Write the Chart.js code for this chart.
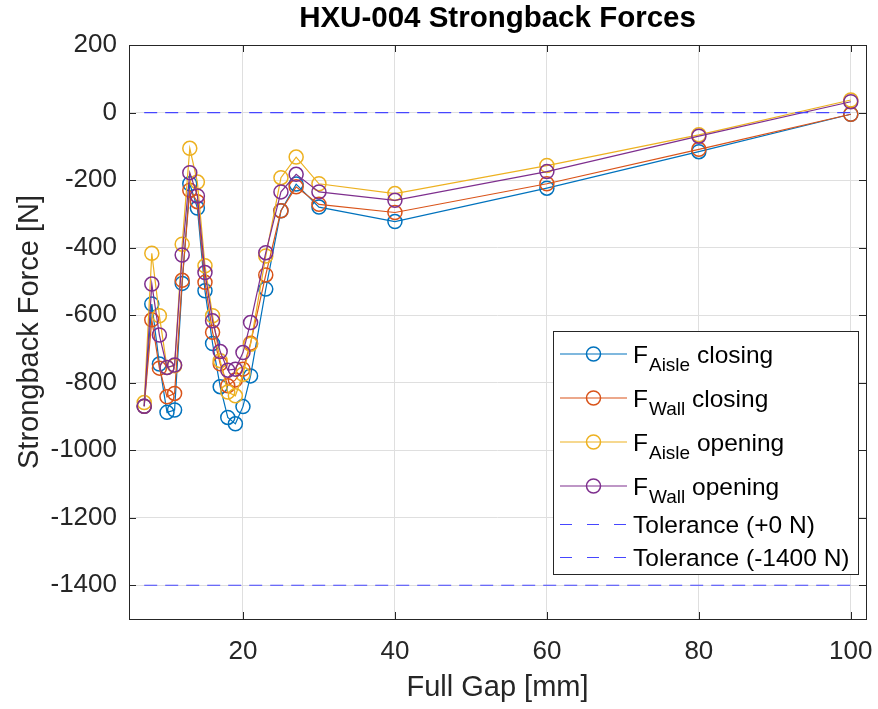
<!DOCTYPE html>
<html>
<head>
<meta charset="utf-8">
<title>HXU-004 Strongback Forces</title>
<script src="https://cdn.jsdelivr.net/npm/chart.js@4.4.1/dist/chart.umd.min.js"></script>
<style>
    html, body { margin: 0; padding: 0; background: #fff; }
    #wrap { width: 878px; height: 709px; }
</style>
</head>
<body>
<div id="wrap"><canvas id="mainChart" width="878" height="709"></canvas></div>
<script>
// ---- data ----
const chartTitle = "HXU-004 Strongback Forces";
const gap = [7, 8, 9, 10, 11, 12, 13, 14, 15, 16, 17, 18, 19, 20, 21, 23, 25, 27, 30, 40, 60, 80, 100];

const aisleClosing = [-870, -567, -745, -888, -881, -506, -211, -283, -528, -684, -812, -903, -922, -871, -780, -523, -291, -212, -280, -323, -224, -116, -5];
const wallClosing  = [-870, -614, -757, -842, -832, -497, -230, -264, -503, -651, -744, -809, -792, -760, -683, -481, -291, -220, -272, -296, -211, -109, -5];
const aisleOpening = [-859, -417, -602, -755, -750, -390, -106, -206, -454, -602, -735, -828, -839, -775, -686, -425, -193, -132, -211, -240, -157, -66, 37];
const wallOpening  = [-870, -508, -659, -755, -748, -422, -178, -247, -474, -617, -708, -763, -760, -711, -622, -415, -235, -183, -235, -260, -175, -70, 32];

const tolGap = [7, 100];
const tolUpper = [0, 0];
const tolLower = [-1400, -1400];

const seriesNames = ["F_{Aisle} closing", "F_{Wall} closing", "F_{Aisle} opening", "F_{Wall} opening",
                     "Tolerance (+0 N)", "Tolerance (-1400 N)"];

const xTicks = [20, 40, 60, 80, 100];
const yTicks = [-1400, -1200, -1000, -800, -600, -400, -200, 0, 200];

const FONT = '"Liberation Sans", Arial, Helvetica, sans-serif';
const AXIS_COLOR = '#262626';

function toPoints(xs, ys) {
    return xs.map((v, i) => ({x: v, y: ys[i]}));
}

function lineSet(label, xs, ys, color, order) {
    return {
        label: label,
        data: toPoints(xs, ys),
        borderColor: color,
        backgroundColor: color,
        borderWidth: 1.2,
        pointRadius: 7,
        pointHoverRadius: 7,
        pointBorderWidth: 1.5,
        pointBorderColor: color,
        pointBackgroundColor: 'rgba(0,0,0,0)',
        tension: 0,
        fill: false,
        order: order
    };
}

function tolSet(label, ys) {
    return {
        label: label,
        data: toPoints(tolGap, ys),
        borderColor: '#4646ff',
        borderWidth: 1.2,
        borderDash: [13, 8],
        pointRadius: 0,
        fill: false,
        order: 0
    };
}

// axes box, inward ticks, title and the legend (legend needs subscripts)
const matlabLook = {
    id: 'matlabLook',
    afterDraw(chart) {
        const ctx = chart.ctx, a = chart.chartArea;
        const xs = chart.scales.x, ys = chart.scales.y;
        ctx.save();

        ctx.strokeStyle = AXIS_COLOR;
        ctx.lineWidth = 1;
        ctx.beginPath();
        xs.ticks.forEach(t => {
            const px = Math.round(xs.getPixelForValue(t.value)) + 0.5;
            ctx.moveTo(px, a.bottom); ctx.lineTo(px, a.bottom - 7);
            ctx.moveTo(px, a.top); ctx.lineTo(px, a.top + 7);
        });
        ys.ticks.forEach(t => {
            const py = Math.round(ys.getPixelForValue(t.value)) + 0.5;
            ctx.moveTo(a.left, py); ctx.lineTo(a.left + 7, py);
            ctx.moveTo(a.right, py); ctx.lineTo(a.right - 7, py);
        });
        ctx.stroke();
        ctx.strokeRect(Math.round(a.left) + 0.5, Math.round(a.top) + 0.5,
            Math.round(a.right - a.left), Math.round(a.bottom - a.top));

        // title
        ctx.fillStyle = '#000';
        ctx.font = 'bold 29.5px ' + FONT;
        ctx.textAlign = 'center';
        ctx.textBaseline = 'middle';
        ctx.fillText(chartTitle, (a.left + a.right) / 2, 19);

        // legend
        const lx = 553, ly = 331, lw = 305, lh = 243;
        ctx.fillStyle = '#fff';
        ctx.fillRect(lx, ly, lw, lh);
        ctx.strokeStyle = AXIS_COLOR;
        ctx.strokeRect(lx + 0.5, ly + 0.5, lw, lh);

        let y = ly + 1;
        chart.data.datasets.forEach(ds => {
            const parts = ds.label.split(/_\{([^}]*)\}/);
            const hasSub = parts.length > 1;
            const h = hasSub ? 44 : 33;
            const cy = y + h / 2;

            ctx.strokeStyle = ds.borderColor;
            ctx.lineWidth = ds.borderWidth;
            ctx.setLineDash(ds.borderDash ? [12, 15] : []);
            ctx.beginPath();
            ctx.moveTo(560, cy); ctx.lineTo(627, cy);
            ctx.stroke();
            ctx.setLineDash([]);
            if (ds.pointRadius > 0) {
                ctx.lineWidth = ds.pointBorderWidth;
                ctx.beginPath();
                ctx.arc(593.5, cy, ds.pointRadius, 0, Math.PI * 2);
                ctx.stroke();
            }

            ctx.fillStyle = '#000';
            ctx.textAlign = 'left';
            ctx.textBaseline = 'alphabetic';
            const base = cy + 8.5;
            let tx = 633;
            ctx.font = '24.5px ' + FONT;
            ctx.fillText(parts[0], tx, base);
            tx += ctx.measureText(parts[0]).width;
            if (hasSub) {
                ctx.font = '19px ' + FONT;
                ctx.fillText(parts[1], tx + 1, base + 8);
                tx += ctx.measureText(parts[1]).width + 1;
                ctx.font = '24.5px ' + FONT;
                ctx.fillText(parts[2], tx, base);
            }
            y += h;
        });

        ctx.restore();
    }
};

let canvas_1 = document.getElementById("mainChart");
new Chart(canvas_1, {
    type: 'line',
    data: {
        datasets: [
            lineSet(seriesNames[0], gap, aisleClosing, '#0072BD', 4),
            lineSet(seriesNames[1], gap, wallClosing, '#D95319', 3),
            lineSet(seriesNames[2], gap, aisleOpening, '#EDB120', 2),
            lineSet(seriesNames[3], gap, wallOpening, '#7E2F8E', 1),
            tolSet(seriesNames[4], tolUpper),
            tolSet(seriesNames[5], tolLower)
        ]
    },
    options: {
        responsive: false,
        animation: false,
        layout: {padding: {left: 0, right: 12, top: 45, bottom: 0}},
        plugins: {
            legend: {display: false},
            title: {display: false},
            tooltip: {enabled: false}
        },
        scales: {
            x: {
                type: 'linear',
                min: 5,
                max: 102,
                afterBuildTicks: axis => { axis.ticks = xTicks.map(v => ({value: v})); },
                afterFit: axis => { axis.height = 90; axis.paddingLeft = 0; axis.paddingRight = 0; },
                grid: {color: '#dfdfdf', lineWidth: 1, drawTicks: false},
                border: {display: false},
                ticks: {
                    padding: 17,
                    color: AXIS_COLOR,
                    font: {family: FONT, size: 26},
                    maxRotation: 0,
                    callback: v => String(v)
                },
                title: {
                    display: true,
                    text: 'Full Gap [mm]',
                    color: AXIS_COLOR,
                    font: {family: FONT, size: 29},
                    padding: {top: 0, bottom: 4}
                }
            },
            y: {
                type: 'linear',
                min: -1500,
                max: 200,
                afterBuildTicks: axis => { axis.ticks = yTicks.map(v => ({value: v})); },
                afterFit: axis => { axis.width = 129; },
                grid: {color: '#dfdfdf', lineWidth: 1, drawTicks: false},
                border: {display: false},
                ticks: {
                    padding: 12,
                    color: AXIS_COLOR,
                    font: {family: FONT, size: 26},
                    callback: v => String(v)
                },
                title: {
                    display: true,
                    text: 'Strongback Force [N]',
                    color: AXIS_COLOR,
                    font: {family: FONT, size: 29},
                    padding: {top: 13, bottom: 0}
                }
            }
        }
    },
    plugins: [matlabLook]
});
</script>
</body>
</html>
